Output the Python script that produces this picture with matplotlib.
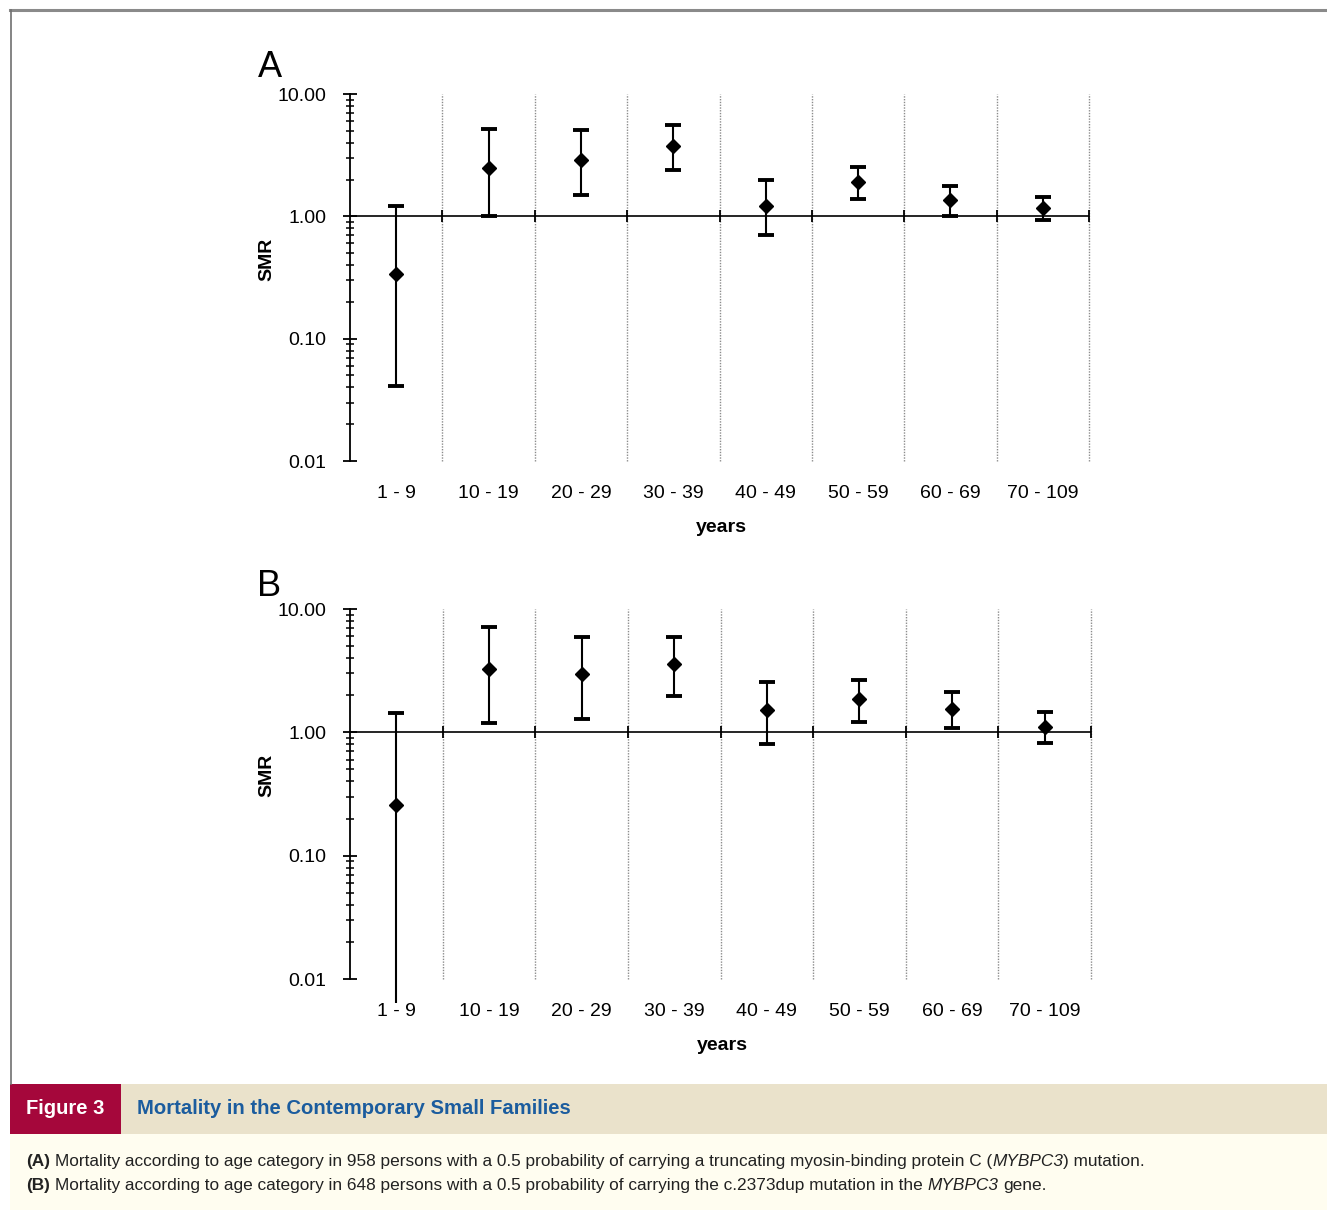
import numpy as np
import matplotlib
matplotlib.use('Agg')
import matplotlib.pyplot as plt
from matplotlib.patches import Rectangle
from matplotlib.lines import Line2D
from matplotlib.ticker import LogLocator, FuncFormatter, NullFormatter

plt.rcParams['font.family'] = ['Liberation Sans', 'DejaVu Sans']

# age categories
categories = ['1 - 9', '10 - 19', '20 - 29', '30 - 39', '40 - 49', '50 - 59', '60 - 69', '70 - 109']

# panel A: SMR with lower / upper confidence limits
smr_a = [0.335, 2.48, 2.90, 3.77, 1.21, 1.91, 1.35, 1.17]
low_a = [0.041, 1.00, 1.50, 2.40, 0.70, 1.39, 1.00, 0.935]
high_a = [1.22, 5.15, 5.09, 5.59, 1.97, 2.54, 1.78, 1.45]

# panel B
smr_b = [0.256, 3.25, 2.98, 3.59, 1.52, 1.85, 1.55, 1.11]
low_b = [0.0064, 1.18, 1.29, 1.97, 0.80, 1.21, 1.08, 0.82]
high_b = [1.44, 7.08, 5.92, 5.92, 2.58, 2.66, 2.13, 1.45]

W, H = 1327, 1210
fig = plt.figure(figsize=(W / 100, H / 100), dpi=100)


def fx(px):
    return px / W


def fy(py):
    return 1 - py / H


def draw_panel(rect, letter, letter_y, smr, low, high, hide_low_cap=None):
    ax = fig.add_axes(rect)
    x = np.arange(len(categories)) + 0.5
    smr = np.array(smr)
    yerr = [smr - np.array(low), np.array(high) - smr]

    ax.set_yscale('log')
    ax.set_ylim(0.01, 10)
    ax.set_xlim(0, len(categories))

    for s in ['top', 'right', 'bottom']:
        ax.spines[s].set_visible(False)
    ax.spines['left'].set_linewidth(1.3)

    # dotted separators between age groups
    bounds = np.arange(1, len(categories) + 1)
    ax.vlines(bounds, 0.01, 10, colors='#8c8c8c', linestyles=(0, (1, 1)), lw=1.0,
              clip_on=False)
    # reference line at SMR = 1 with small ticks at the boundaries
    ax.axhline(1, color='black', lw=1.2, zorder=2)
    ax.plot(bounds, np.ones(len(bounds)), ls='none', marker='|', ms=9, mew=1.3,
            color='black', clip_on=False, zorder=2)

    eb = ax.errorbar(x, smr, yerr=yerr, fmt='D', color='black', ms=7,
                     elinewidth=1.5, capsize=5.5, capthick=2.8, clip_on=False, zorder=3)
    for art in eb.get_children():
        art.set_clip_on(False)
    if hide_low_cap is not None:
        keep = [i for i in range(len(categories)) if i != hide_low_cap]
        eb[1][0].set_markevery(keep)

    ax.yaxis.set_major_locator(LogLocator(base=10, numticks=10))
    ax.yaxis.set_minor_locator(LogLocator(base=10, subs=np.arange(2, 10), numticks=10))
    ax.yaxis.set_major_formatter(FuncFormatter(lambda v, p: '%.2f' % v))
    ax.yaxis.set_minor_formatter(NullFormatter())
    ax.tick_params(axis='y', which='major', direction='inout', length=10, width=1.3,
                   pad=12, labelsize=14)
    ax.tick_params(axis='y', which='minor', direction='inout', length=6, width=1.1)

    ax.set_xticks(x)
    ax.set_xticklabels(categories)
    ax.tick_params(axis='x', length=0, pad=17, labelsize=14)

    ax.text(0.503, -0.18, 'years', transform=ax.transAxes, ha='center', va='center',
            fontsize=14, fontweight='bold')
    ax.text(-0.112, 0.55, 'SMR', transform=ax.transAxes, ha='center', va='center',
            rotation=90, fontsize=14, fontweight='bold')
    ax.text(-0.125, letter_y, letter, transform=ax.transAxes, ha='left', va='center',
            fontsize=26)
    return ax


draw_panel([fx(350), fy(461), fx(739), 367 / H], 'A', 1.072, smr_a, low_a, high_a)
draw_panel([fx(350), fy(979), fx(741), 370 / H], 'B', 1.062, smr_b, low_b, high_b,
           hide_low_cap=0)

# frame lines
fig.add_artist(Line2D([fx(10), 1], [fy(10), fy(10)], color='#8a8a8a', lw=2.2))
fig.add_artist(Line2D([fx(10.5), fx(10.5)], [fy(10), fy(1084)], color='#707070', lw=1.2))

# caption band
fig.add_artist(Rectangle((fx(10), fy(1134)), 1 - fx(10), 50 / H, transform=fig.transFigure,
                         facecolor='#eae2cb', edgecolor='none'))
fig.add_artist(Rectangle((fx(10), fy(1134)), fx(111), 50 / H, transform=fig.transFigure,
                         facecolor='#a5073b', edgecolor='none'))
fig.add_artist(Rectangle((fx(10), 0), 1 - fx(10), 76 / H, transform=fig.transFigure,
                         facecolor='#fffdf0', edgecolor='none'))

fig.text(fx(65), fy(1109), 'Figure 3', color='white', fontsize=14.5, fontweight='bold',
         ha='center', va='center')
fig.text(fx(137), fy(1109), 'Mortality in the Contemporary Small Families', color='#1b5c9e',
         fontsize=14.6, fontweight='bold', ha='left', va='center')

cap_size = 12.4
renderer = fig.canvas.get_renderer()
t1 = fig.text(0, 0, 'a a', fontsize=cap_size)
t2 = fig.text(0, 0, 'aa', fontsize=cap_size)
space_w = t1.get_window_extent(renderer).width - t2.get_window_extent(renderer).width
t1.remove()
t2.remove()


def rich_line(x_px, y_px, pieces, size=cap_size):
    # pieces: (text, weight, style, space_after)
    x = x_px
    for txt, weight, style, gap in pieces:
        t = fig.text(fx(x), fy(y_px), txt, fontsize=size, fontweight=weight, fontstyle=style,
                     ha='left', va='baseline', color='#222222')
        x += t.get_window_extent(renderer).width + (space_w if gap else 0)


rich_line(26, 1166, [
    ('(A)', 'bold', 'normal', True),
    ('Mortality according to age category in 958 persons with a 0.5 probability of carrying '
     'a truncating myosin-binding protein C (', 'normal', 'normal', False),
    ('MYBPC3', 'normal', 'italic', False),
    (') mutation.', 'normal', 'normal', False),
])
rich_line(26, 1190, [
    ('(B)', 'bold', 'normal', True),
    ('Mortality according to age category in 648 persons with a 0.5 probability of carrying '
     'the c.2373dup mutation in the', 'normal', 'normal', True),
    ('MYBPC3', 'normal', 'italic', True),
    ('gene.', 'normal', 'normal', False),
])

fig.savefig('out.png', dpi=100)
